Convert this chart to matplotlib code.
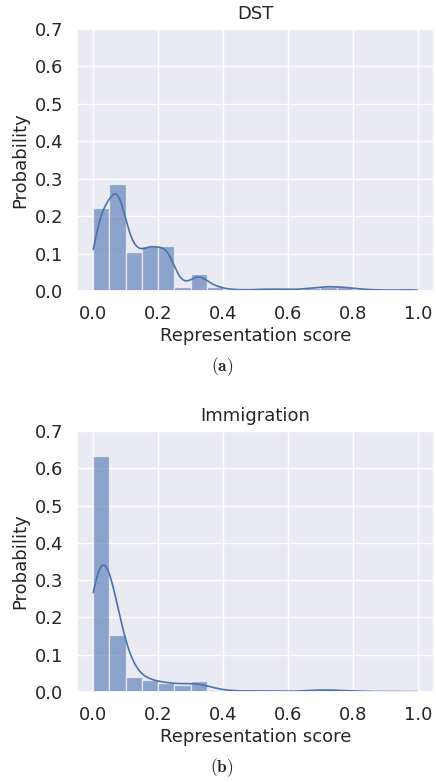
import numpy as np
import matplotlib
matplotlib.use("Agg")
import matplotlib.pyplot as plt
import seaborn as sns

# ---- data ----
bin_edges = [round(0.05 * i, 2) for i in range(21)]
dst_probs = [0.221, 0.287, 0.103, 0.119, 0.121, 0.012, 0.046, 0.012, 0.004, 0.003,
             0.005, 0.005, 0.004, 0.008, 0.012, 0.010, 0.005, 0.003, 0.002, 0.004]
imm_probs = [0.632, 0.152, 0.041, 0.032, 0.025, 0.018, 0.030, 0.006, 0.003, 0.002,
             0.004, 0.002, 0.001, 0.005, 0.007, 0.003, 0.002, 0.001, 0.001, 0.002]
titles = ["DST", "Immigration"]
captions = ["(a)", "(b)"]
xticks = [0.0, 0.2, 0.4, 0.6, 0.8, 1.0]
yticks = [0.0, 0.1, 0.2, 0.3, 0.4, 0.5, 0.6, 0.7]

sns.set_theme(style="darkgrid")
plt.rcParams["font.family"] = ["DejaVu Sans"]
plt.rcParams["mathtext.fontset"] = "cm"

BLUE = "#4C72B0"

fig = plt.figure(figsize=(4.36, 7.82), dpi=100)
ax1 = fig.add_axes([77 / 436, 1 - 291 / 782, 357 / 436, 262 / 782])
ax2 = fig.add_axes([77 / 436, 1 - 692 / 782, 357 / 436, 261 / 782])


def smooth_curve(edges, probs, bw):
    edges = np.asarray(edges)
    probs = np.asarray(probs)
    centers = (edges[:-1] + edges[1:]) / 2
    width = edges[1] - edges[0]
    xs = np.linspace(edges[0], edges[-1], 400)
    z = (xs[:, None] - centers[None, :]) / bw
    dens = (probs[None, :] * np.exp(-0.5 * z ** 2)).sum(axis=1) / (bw * np.sqrt(2 * np.pi))
    return xs, dens * width


for ax, probs, title, bw in [
    (ax1, dst_probs, titles[0], 0.027),
    (ax2, imm_probs, titles[1], 0.042),
]:
    edges = np.asarray(bin_edges)
    ax.bar(edges[:-1], probs, width=np.diff(edges), align="edge",
           color=BLUE, alpha=0.6, edgecolor="white", linewidth=1.0)
    xs, ys = smooth_curve(bin_edges, probs, bw)
    ax.plot(xs, ys, color=BLUE, lw=1.2)
    ax.set_xlim(-0.05, 1.05)
    ax.set_ylim(0, 0.7)
    ax.set_xticks(xticks)
    ax.set_yticks(yticks)
    ax.set_xticklabels([f"{t:.1f}" for t in xticks])
    ax.set_yticklabels([f"{t:.1f}" for t in yticks])
    ax.tick_params(labelsize=13, pad=4)
    ax.set_title(title, fontsize=13, pad=7)
    ax.set_xlabel("Representation score", fontsize=13, labelpad=3)
    ax.set_ylabel("Probability", fontsize=13, labelpad=4)

fig.text(222 / 436, 1 - 367 / 782, r"$\mathbf{" + captions[0] + "}$",
         ha="center", va="center", fontsize=12.5)
fig.text(222 / 436, 1 - 768 / 782, r"$\mathbf{" + captions[1] + "}$",
         ha="center", va="center", fontsize=12.5)

fig.savefig("out.png", dpi=100)
